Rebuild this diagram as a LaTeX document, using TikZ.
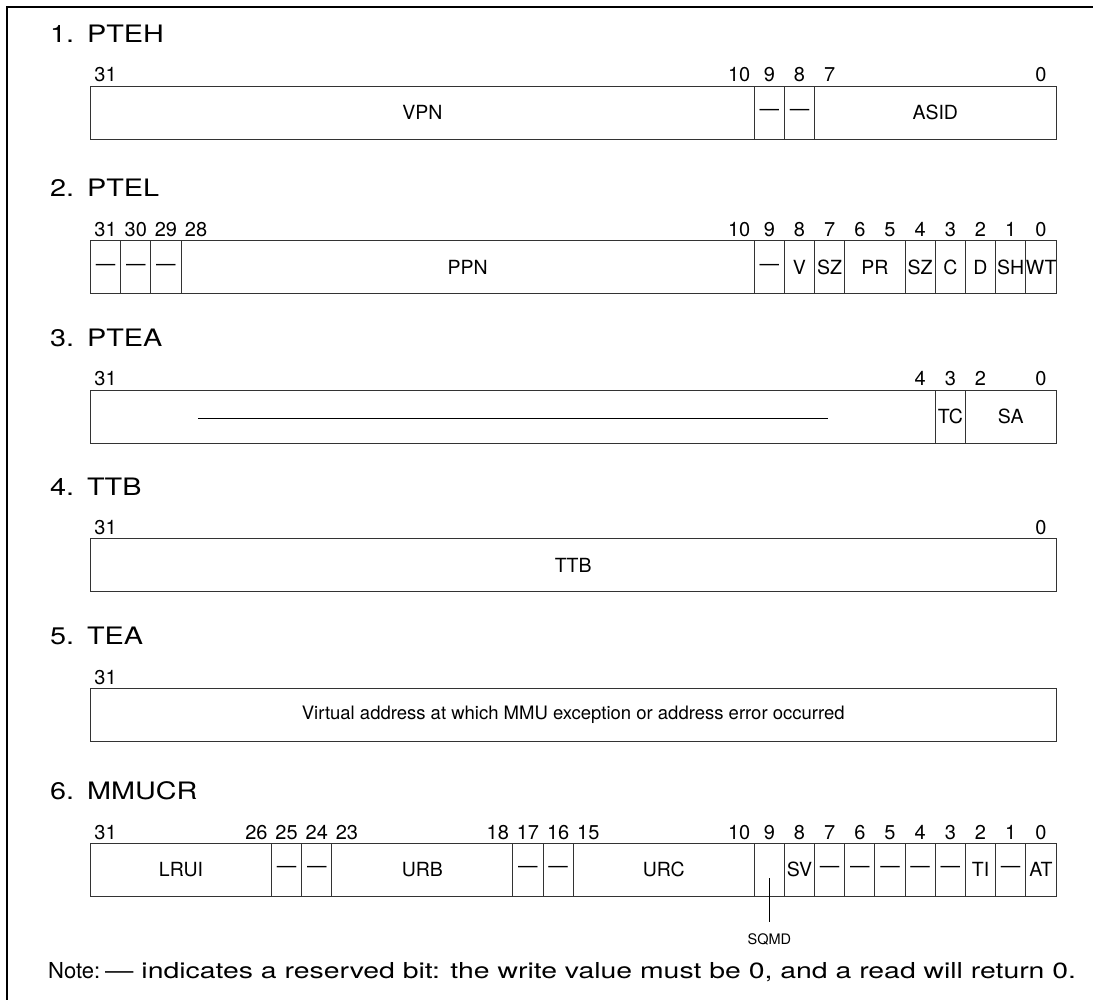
\documentclass[tikz,border=0pt]{standalone}
\usepackage{fontspec}
\setmainfont{TeX Gyre Heros}
\usetikzlibrary{positioning}

\newcommand{\regL}{90.5}
\newcommand{\bitw}{30.17}
\newcommand{\wide}[2][1.2]{\scalebox{#1}[1]{#2}}

\begin{document}
\begin{tikzpicture}[x=1pt, y=-1pt,
  title/.style={anchor=base west, inner sep=0pt, font=\fontsize{24}{28}\selectfont},
  bitnum/.style={anchor=base, font=\fontsize{20}{23}\selectfont},
  field/.style={draw=black!80, line width=0.9pt, minimum height=53pt,
    inner sep=0pt, outer sep=0pt, anchor=north west, font=\fontsize{19.5}{23}\selectfont},
  callout/.style={inner sep=1pt, font=\fontsize{14.5}{17}\selectfont},
  note/.style={anchor=base west, inner sep=0pt, font=\fontsize{22}{26}\selectfont}
]
  \useasboundingbox (0,0) rectangle (1093,1000);
  \draw[line width=2.6pt] (1093,7) -- (7,7) -- (7,1000);

  % 1. PTEH
  \node[title] (t-pteh) at (50,42.5) {\wide{1.\hspace{0.45em}PTEH}};
  \foreach \b in {31,10,9,8,7,0}
    \node[bitnum] (pteh-b\b) at ({\regL+(31.5-\b)*\bitw}, 82) {\b};
  \foreach \hi/\lo/\txt [count=\i] in {31/10/VPN, 9/9/\textemdash, 8/8/\textemdash, 7/0/ASID}
    \node[field, minimum width={(\hi-\lo+1)*\bitw*1pt}] (pteh\i) at ({\regL+(31-\hi)*\bitw}, 86) {\txt};

  % 2. PTEL
  \node[title] (t-ptel) at (50,197) {\wide{2.\hspace{0.45em}PTEL}};
  \foreach \b in {31,30,29,28,10,9,8,7,6,5,4,3,2,1,0}
    \node[bitnum] (ptel-b\b) at ({\regL+(31.5-\b)*\bitw}, 236.7) {\b};
  \foreach \hi/\lo/\txt [count=\i] in {31/31/\textemdash, 30/30/\textemdash, 29/29/\textemdash,
      28/10/PPN, 9/9/\textemdash, 8/8/V, 7/7/SZ, 6/5/PR, 4/4/SZ, 3/3/C, 2/2/D, 1/1/SH, 0/0/WT}
    \node[field, minimum width={(\hi-\lo+1)*\bitw*1pt}] (ptel\i) at ({\regL+(31-\hi)*\bitw}, 240.7) {\txt};

  % 3. PTEA
  \node[title] (t-ptea) at (50,346.5) {\wide{3.\hspace{0.45em}PTEA}};
  \foreach \b in {31,4,3,2,0}
    \node[bitnum] (ptea-b\b) at ({\regL+(31.5-\b)*\bitw}, 386) {\b};
  \foreach \hi/\lo/\txt [count=\i] in {31/4/{}, 3/3/TC, 2/0/SA}
    \node[field, minimum width={(\hi-\lo+1)*\bitw*1pt}] (ptea\i) at ({\regL+(31-\hi)*\bitw}, 390) {\txt};
  \draw[line width=0.9pt] ([xshift=-315pt,yshift=-1.5pt]ptea1.center) -- ([xshift=315pt,yshift=-1.5pt]ptea1.center);

  % 4. TTB
  \node[title] (t-ttb) at (50,495) {\wide{4.\hspace{0.45em}TTB}};
  \foreach \b in {31,0}
    \node[bitnum] (ttb-b\b) at ({\regL+(31.5-\b)*\bitw}, 534.5) {\b};
  \node[field, minimum width={32*\bitw*1pt}] (ttb1) at (\regL, 538.5) {TTB};

  % 5. TEA
  \node[title] (t-tea) at (50,644.5) {\wide{5.\hspace{0.45em}TEA}};
  \node[bitnum] (tea-b31) at ({\regL+0.5*\bitw}, 684) {31};
  \node[field, minimum width={32*\bitw*1pt}, font=\fontsize{18.5}{22}\selectfont] (tea1) at (\regL, 688)
    {Virtual address at which MMU exception or address error occurred};

  % 6. MMUCR
  \node[title] (t-mmucr) at (50,799.5) {\wide{6.\hspace{0.45em}MMUCR}};
  \foreach \b in {31,26,25,24,23,18,17,16,15,10,9,8,7,6,5,4,3,2,1,0}
    \node[bitnum] (mmucr-b\b) at ({\regL+(31.5-\b)*\bitw}, 839) {\b};
  \foreach \hi/\lo/\txt [count=\i] in {31/26/LRUI, 25/25/\textemdash, 24/24/\textemdash, 23/18/URB,
      17/17/\textemdash, 16/16/\textemdash, 15/10/URC, 9/9/{}, 8/8/SV, 7/7/\textemdash,
      6/6/\textemdash, 5/5/\textemdash, 4/4/\textemdash, 3/3/\textemdash, 2/2/TI,
      1/1/\textemdash, 0/0/AT}
    \node[field, minimum width={(\hi-\lo+1)*\bitw*1pt}] (mmucr\i) at ({\regL+(31-\hi)*\bitw}, 843) {\txt};
  \coordinate (sqmd-tip) at ([yshift=-8.5pt]mmucr8.center);
  \node[callout, below=54pt of sqmd-tip] (sqmd) {SQMD};
  \draw[line width=0.9pt] (sqmd-tip) -- ([yshift=10pt]sqmd.north);

  % note
  \node[note] (note) at (48,978) {Note:};
  \node[note] (note-txt) at (105,978)
    {\wide[1.29]{\textemdash\ indicates a reserved bit: the write value must be 0, and a read will return 0.}};
\end{tikzpicture}
\end{document}
